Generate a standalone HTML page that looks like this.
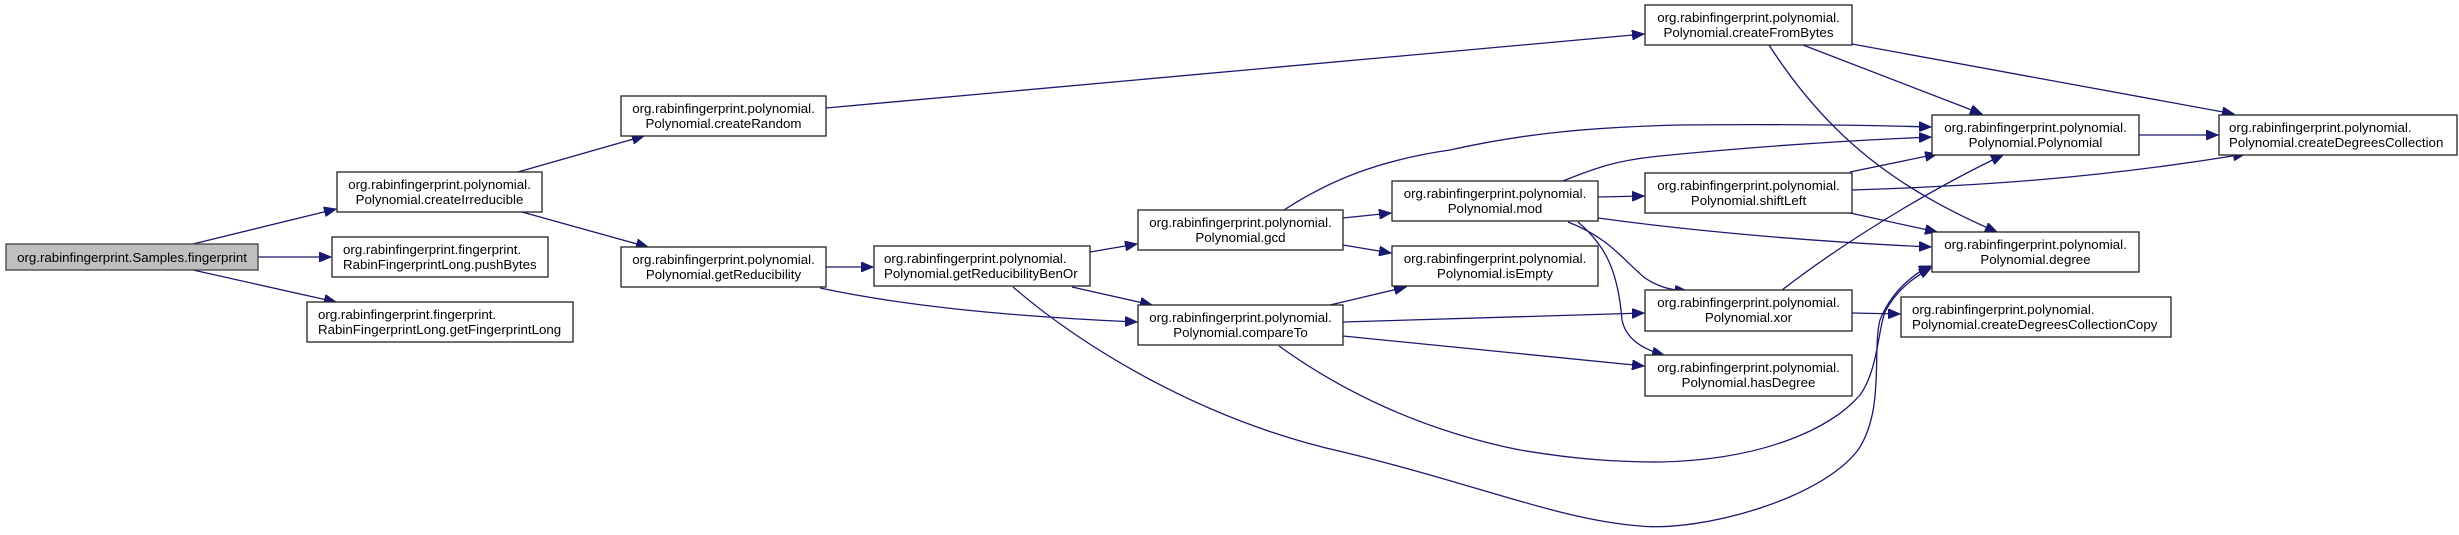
<!DOCTYPE html>
<html><head><meta charset="utf-8"><style>
html,body{margin:0;padding:0;background:#fff;}
svg{display:block;}
text{font-family:"Liberation Sans",Arial,sans-serif;font-size:13.3px;fill:#000;}
.b{fill:#fff;stroke:#222;stroke-width:1.3;}
.e{fill:none;stroke:#191970;stroke-width:1.3;}
</style></head><body>
<svg width="2459" height="535" viewBox="0 0 2459 535" xmlns="http://www.w3.org/2000/svg">
<defs>
<marker id="a" markerUnits="userSpaceOnUse" markerWidth="14" markerHeight="10" refX="12" refY="5" orient="auto">
<path d="M0,0 L12,5 L0,10 Z" fill="#191970" stroke="#191970"/>
</marker>
</defs>
<!-- edges -->
<g class="e" marker-end="url(#a)">
<path d="M193,244 L336,209"/>
<path d="M258,257 L331,257"/>
<path d="M193,270 L336,302"/>
<path d="M518,172 L644,136"/>
<path d="M522,212 L648,247"/>
<path d="M826,108 L1644,34"/>
<path d="M826,267 L873,267"/>
<path d="M820,288 C900,305 1000,316 1137,322"/>
<path d="M1090,252 L1137,244"/>
<path d="M1072,287 L1152,305"/>
<path d="M1013,287 C1080,345 1200,420 1343,452 C1480,485 1560,520 1640,526 C1700,532 1820,500 1858,450 C1885,410 1872,350 1880,320 C1890,295 1910,275 1931,266"/>
<path d="M1284,210 C1330,180 1380,160 1450,150 C1530,132 1600,127 1680,125 C1780,124 1860,125 1931,127"/>
<path d="M1343,218 L1391,213"/>
<path d="M1343,245 L1391,253"/>
<path d="M1330,305 L1406,287"/>
<path d="M1343,322 L1644,313"/>
<path d="M1343,336 L1644,366"/>
<path d="M1279,346 C1340,390 1420,430 1520,450 C1580,460 1620,462 1660,462 C1760,460 1830,430 1860,395 C1878,370 1878,330 1885,312 C1895,292 1912,278 1931,268"/>
<path d="M1563,181 C1600,166 1620,160 1660,156 C1760,146 1860,140 1931,137"/>
<path d="M1598,197 L1644,196"/>
<path d="M1598,218 C1700,232 1820,242 1931,247"/>
<path d="M1568,222 C1610,238 1625,262 1645,278 C1660,288 1672,290 1687,291"/>
<path d="M1578,222 C1605,245 1618,270 1622,320 C1626,340 1645,350 1664,355"/>
<path d="M1803,45 L1982,114"/>
<path d="M1852,44 L2234,114"/>
<path d="M1769,45 C1830,140 1900,190 1997,232"/>
<path d="M2139,135 L2218,135"/>
<path d="M1850,172 L1937,154"/>
<path d="M1852,190 C1980,186 2100,178 2245,154"/>
<path d="M1850,213 L1937,232"/>
<path d="M1782,290 C1860,230 1950,180 2003,155"/>
<path d="M1852,313 L1900,314"/>
</g>
<!-- nodes -->
<rect x="6" y="244" width="252" height="26" fill="#bfbfbf" stroke="#404040" stroke-width="1.3"/>
<text x="132" y="262" text-anchor="middle">org.rabinfingerprint.Samples.fingerprint</text>

<rect class="b" x="337" y="172" width="205" height="40"/>
<text x="439.5" y="189" text-anchor="middle">org.rabinfingerprint.polynomial.</text>
<text x="439.5" y="204" text-anchor="middle">Polynomial.createIrreducible</text>

<rect class="b" x="332" y="237" width="216" height="40"/>
<text x="343" y="254">org.rabinfingerprint.fingerprint.</text>
<text x="343" y="269">RabinFingerprintLong.pushBytes</text>

<rect class="b" x="307" y="302" width="266" height="40"/>
<text x="318" y="319">org.rabinfingerprint.fingerprint.</text>
<text x="318" y="334">RabinFingerprintLong.getFingerprintLong</text>

<rect class="b" x="621" y="96" width="205" height="40"/>
<text x="723.5" y="113" text-anchor="middle">org.rabinfingerprint.polynomial.</text>
<text x="723.5" y="128" text-anchor="middle">Polynomial.createRandom</text>

<rect class="b" x="621" y="247" width="205" height="40"/>
<text x="723.5" y="264" text-anchor="middle">org.rabinfingerprint.polynomial.</text>
<text x="723.5" y="279" text-anchor="middle">Polynomial.getReducibility</text>

<rect class="b" x="874" y="246" width="216" height="40"/>
<text x="884" y="263">org.rabinfingerprint.polynomial.</text>
<text x="884" y="278">Polynomial.getReducibilityBenOr</text>

<rect class="b" x="1138" y="210" width="205" height="40"/>
<text x="1240.5" y="227" text-anchor="middle">org.rabinfingerprint.polynomial.</text>
<text x="1240.5" y="242" text-anchor="middle">Polynomial.gcd</text>

<rect class="b" x="1138" y="305" width="205" height="40"/>
<text x="1240.5" y="322" text-anchor="middle">org.rabinfingerprint.polynomial.</text>
<text x="1240.5" y="337" text-anchor="middle">Polynomial.compareTo</text>

<rect class="b" x="1392" y="181" width="206" height="40"/>
<text x="1495" y="198" text-anchor="middle">org.rabinfingerprint.polynomial.</text>
<text x="1495" y="213" text-anchor="middle">Polynomial.mod</text>

<rect class="b" x="1392" y="246" width="206" height="40"/>
<text x="1495" y="263" text-anchor="middle">org.rabinfingerprint.polynomial.</text>
<text x="1495" y="278" text-anchor="middle">Polynomial.isEmpty</text>

<rect class="b" x="1645" y="5" width="207" height="40"/>
<text x="1748.5" y="22" text-anchor="middle">org.rabinfingerprint.polynomial.</text>
<text x="1748.5" y="37" text-anchor="middle">Polynomial.createFromBytes</text>

<rect class="b" x="1645" y="173" width="207" height="40"/>
<text x="1748.5" y="190" text-anchor="middle">org.rabinfingerprint.polynomial.</text>
<text x="1748.5" y="205" text-anchor="middle">Polynomial.shiftLeft</text>

<rect class="b" x="1645" y="290" width="207" height="41"/>
<text x="1748.5" y="307" text-anchor="middle">org.rabinfingerprint.polynomial.</text>
<text x="1748.5" y="322" text-anchor="middle">Polynomial.xor</text>

<rect class="b" x="1645" y="355" width="207" height="41"/>
<text x="1748.5" y="372" text-anchor="middle">org.rabinfingerprint.polynomial.</text>
<text x="1748.5" y="387" text-anchor="middle">Polynomial.hasDegree</text>

<rect class="b" x="1932" y="115" width="207" height="40"/>
<text x="2035.5" y="132" text-anchor="middle">org.rabinfingerprint.polynomial.</text>
<text x="2035.5" y="147" text-anchor="middle">Polynomial.Polynomial</text>

<rect class="b" x="1932" y="232" width="207" height="40"/>
<text x="2035.5" y="249" text-anchor="middle">org.rabinfingerprint.polynomial.</text>
<text x="2035.5" y="264" text-anchor="middle">Polynomial.degree</text>

<rect class="b" x="1901" y="297" width="270" height="40"/>
<text x="1912" y="314">org.rabinfingerprint.polynomial.</text>
<text x="1912" y="329">Polynomial.createDegreesCollectionCopy</text>

<rect class="b" x="2219" y="115" width="238" height="40"/>
<text x="2229" y="132">org.rabinfingerprint.polynomial.</text>
<text x="2229" y="147">Polynomial.createDegreesCollection</text>
</svg>
</body></html>
